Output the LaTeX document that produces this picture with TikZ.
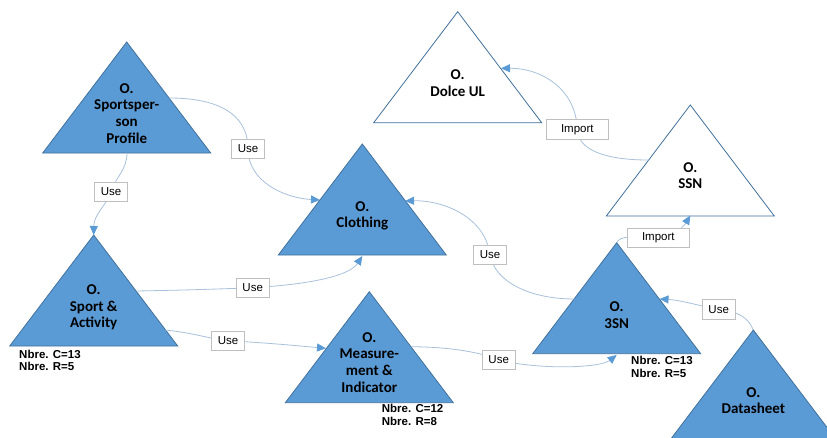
\documentclass[tikz,border=0pt]{standalone}
\usepackage{fontspec}
\setmainfont{Carlito}
\newfontfamily\arialfont{Liberation Sans}
\usetikzlibrary{arrows.meta,calc}
\definecolor{triblue}{HTML}{5B9BD5}
\definecolor{triedge}{HTML}{41719C}
\definecolor{connline}{HTML}{A9C1DB}
\definecolor{lbledge}{HTML}{BFBFBF}
\newcommand\onttri[3]{\coordinate (#1) at (#2); \path[#3] (#1) -- ++(84,111) -- ++(-168,0) -- cycle;}
\begin{document}
\begin{tikzpicture}[x=1pt,y=-1pt,
  filledtri/.style={fill=triblue,draw=triedge,line width=0.8pt},
  emptytri/.style={fill=white,draw=triedge,line width=0.8pt},
  ttext/.style={font=\fontsize{15}{16.7}\selectfont\bfseries,align=center,inner sep=0pt},
  nbre/.style={font=\arialfont\bfseries\fontsize{11.5}{12}\selectfont,anchor=base west,inner sep=0pt},
  elabel/.style={draw=lbledge,fill=white,font=\arialfont\fontsize{11.5}{13}\selectfont,minimum height=19.5pt,inner sep=0pt,line width=0.6pt},
  uselbl/.style={elabel,minimum width=33pt},
  implbl/.style={elabel,minimum width=62pt},
  conn/.style={draw=connline,line width=0.8pt,-{Triangle[length=9pt,width=8pt,color=triblue]}},
  plain/.style={draw=connline,line width=0.8pt}]
\clip (0,0) rectangle (827,437);
\fill[white] (0,0) rectangle (827,437);
% triangles
\onttri{sp}{126.7,42}{filledtri}
\onttri{cl}{362.3,144}{filledtri}
\onttri{do}{457.7,11.7}{emptytri}
\onttri{ssn}{690.3,105}{emptytri}
\onttri{sa}{93.7,235}{filledtri}
\onttri{me}{369.3,291.7}{filledtri}
\onttri{tsn}{616.7,242.7}{filledtri}
\onttri{ds}{753.3,330}{filledtri}
% triangle texts
\node[ttext] (sp-t) at (126.7,113.3) {O.\\Sportsper-\\son\\Profile};
\node[ttext] (cl-t) at (362.3,215.7) {O.\\Clothing};
\node[ttext] (do-t) at (457.7,83.3) {O.\\Dolce UL};
\node[ttext] (ssn-t) at (690.3,175.7) {O.\\SSN};
\node[ttext] (sa-t) at (93.7,307.3) {O.\\Sport \&\\Activity};
\node[ttext] (me-t) at (369.3,362.3) {O.\\Measure-\\ment \&\\Indicator};
\node[ttext] (tsn-t) at (616.7,315) {O.\\3SN};
\node[ttext] (ds-t) at (753.3,400.7) {O.\\Datasheet};
% counts
\node[nbre] (sa-c) at (19,358) {Nbre. C=13};
\node[nbre] (sa-r) at (19,370) {Nbre. R=5};
\node[nbre] (me-c) at (381.7,412.3) {Nbre. C=12};
\node[nbre] (me-r) at (381.7,425.7) {Nbre. R=8};
\node[nbre] (tsn-c) at (631,364) {Nbre. C=13};
\node[nbre] (tsn-r) at (631,377.7) {Nbre. R=5};
% connector end points
\coordinate (c1s) at (169,98);   \coordinate (c1e) at (320,200);
\coordinate (c2s) at (127,153);  \coordinate (c2e) at (93.7,235);
\coordinate (c3s) at (136.5,291);\coordinate (c3e) at (362.3,256);
\coordinate (c4s) at (165,330);  \coordinate (c4e) at (326,348.3);
\coordinate (c5s) at (411,346.7);\coordinate (c5e) at (616.7,355);
\coordinate (c6s) at (574.5,299);\coordinate (c6e) at (405,201);
\coordinate (c7s) at (616.7,242.7);\coordinate (c7e) at (690.3,215.5);
\coordinate (c8s) at (648.7,160);\coordinate (c8e) at (501,68.3);
\coordinate (c9s) at (753.3,330);\coordinate (c9e) at (659.5,299);
% label positions
\coordinate (u1) at (248,149);
\coordinate (u2) at (111,192);
\coordinate (u3) at (252.7,287.7);
\coordinate (u4) at (228,340.7);
\coordinate (u5) at (498.7,360);
\coordinate (u6) at (490,255);
\coordinate (u7) at (658.3,238);
\coordinate (u8) at (577.3,129.3);
\coordinate (u9) at (718.7,309.3);
% connectors
\draw[conn] (c1s) .. controls (215,98) and (248,112) .. (u1) .. controls (248,182) and (285,198) .. (c1e);
\draw[conn] (c2s) .. controls (127,170) and (115,178) .. (u2) .. controls (106,206) and (94,214) .. (c2e);
\draw[conn] (c3s) .. controls (190,290) and (220,289) .. (u3) .. controls (315,284) and (350,275) .. (c3e);
\draw[conn] (c4s) .. controls (195,333) and (210,339) .. (u4) .. controls (270,343) and (300,346) .. (c4e);
\draw[conn] (c5s) .. controls (450,347) and (480,352) .. (u5) .. controls (540,370) and (600,368) .. (c5e);
\draw[conn] (c6s) .. controls (530,299) and (495,282) .. (u6) .. controls (485,215) and (440,200) .. (c6e);
\draw[conn] (c7s) .. controls (620,236) and (630,236) .. (u7) .. controls (675,236) and (684,226) .. (c7e);
\draw[conn] (c8s) .. controls (605,160) and (578,150) .. (u8) .. controls (576,88) and (540,68) .. (c8e);
\draw[conn] (c9s) .. controls (748,316) and (735,311) .. (u9) .. controls (700,306) and (680,300) .. (c9e);
% labels
\node[uselbl] (l1) at (u1) {Use};
\node[uselbl] (l2) at (u2) {Use};
\node[uselbl] (l3) at (u3) {Use};
\node[uselbl] (l4) at (u4) {Use};
\node[uselbl] (l5) at (u5) {Use};
\node[uselbl] (l6) at (u6) {Use};
\node[implbl] (l7) at (u7) {Import};
\node[implbl] (l8) at (u8) {Import};
\node[uselbl] (l9) at (u9) {Use};
\end{tikzpicture}
\end{document}
